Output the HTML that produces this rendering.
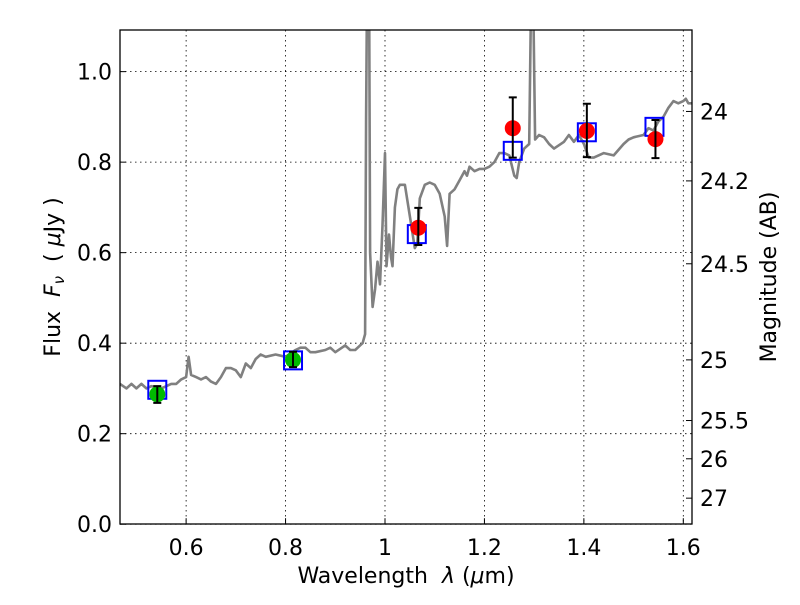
<!DOCTYPE html>
<html><head><meta charset="utf-8"><style>
body{margin:0;background:#fff}
svg text{font-family:"DejaVu Sans","Liberation Sans",sans-serif;fill:#000;white-space:pre}
</style></head><body>
<svg id="chart" width="800" height="600">
<rect x="0" y="0" width="800" height="600" fill="#fff"/>
<g id="grid"></g>
<g id="plot" clip-path="url(#clip)"></g>
<defs><clipPath id="clip"><rect x="120" y="30" width="572" height="494"/></clipPath></defs>
<rect x="120" y="30" width="572" height="494" fill="none" stroke="#000" stroke-width="1.3"/>
<g id="axes"></g>
<text x="406" y="583" font-size="22" text-anchor="middle" xml:space="preserve">Wavelength  <tspan font-style="italic">λ</tspan> (<tspan font-style="italic">μ</tspan>m)</text>
<text transform="translate(60,277) rotate(-90)" font-size="22" text-anchor="middle" xml:space="preserve">Flux  <tspan font-style="italic">F<tspan font-size="15" dy="4">ν</tspan></tspan><tspan dy="-4">  ( </tspan><tspan font-style="italic">μ</tspan>Jy )</text>
<text transform="translate(776,277) rotate(-90)" font-size="22" text-anchor="middle">Magnitude (AB)</text>
</svg>
<script>
const specWave=[0.467,0.48,0.49,0.50,0.51,0.52,0.53,0.55,0.56,0.57,0.58,0.59,0.60,0.605,0.61,0.62,0.63,0.64,0.65,0.66,0.67,0.68,0.69,0.70,0.71,0.72,0.73,0.74,0.75,0.76,0.78,0.80,0.82,0.83,0.84,0.85,0.86,0.88,0.89,0.90,0.92,0.93,0.94,0.95,0.955,0.96,0.962,0.964,0.968,0.970,0.975,0.98,0.985,0.99,0.995,1.0,1.003,1.008,1.012,1.015,1.02,1.025,1.03,1.04,1.05,1.06,1.065,1.07,1.08,1.09,1.10,1.11,1.12,1.125,1.13,1.14,1.15,1.16,1.165,1.17,1.18,1.19,1.20,1.21,1.22,1.23,1.24,1.25,1.26,1.265,1.27,1.28,1.29,1.293,1.299,1.302,1.31,1.32,1.33,1.34,1.36,1.37,1.38,1.39,1.40,1.41,1.42,1.44,1.46,1.48,1.49,1.50,1.52,1.53,1.54,1.55,1.56,1.57,1.58,1.59,1.60,1.605,1.61,1.6175];
const specFlux=[0.31,0.30,0.31,0.30,0.31,0.30,0.305,0.30,0.305,0.31,0.31,0.32,0.325,0.37,0.33,0.325,0.32,0.325,0.315,0.31,0.325,0.345,0.345,0.34,0.325,0.355,0.345,0.365,0.375,0.37,0.375,0.37,0.385,0.39,0.39,0.38,0.38,0.385,0.39,0.38,0.395,0.385,0.385,0.395,0.40,0.42,0.9,1.2,1.2,0.6,0.48,0.52,0.58,0.53,0.66,0.82,0.57,0.64,0.59,0.57,0.70,0.74,0.75,0.75,0.68,0.61,0.62,0.72,0.75,0.755,0.75,0.73,0.68,0.615,0.73,0.74,0.76,0.78,0.77,0.79,0.78,0.785,0.785,0.79,0.80,0.82,0.82,0.815,0.77,0.765,0.80,0.83,0.84,1.1,1.1,0.85,0.86,0.855,0.84,0.83,0.845,0.86,0.845,0.86,0.84,0.81,0.81,0.82,0.815,0.84,0.85,0.855,0.86,0.875,0.87,0.89,0.90,0.92,0.935,0.93,0.935,0.94,0.93,0.93];
const redWave=[1.067,1.257,1.406,1.544];
const redFlux=[0.655,0.875,0.869,0.851];
const redErrHi=[0.699,0.943,0.929,0.893];
const redErrLo=[0.617,0.810,0.811,0.809];
const greenWave=[0.542,0.815];
const greenFlux=[0.287,0.363];
const greenErrHi=[0.305,0.381];
const greenErrLo=[0.268,0.347];
const modelWave=[0.542,0.815,1.064,1.257,1.406,1.542];
const modelFlux=[0.297,0.362,0.641,0.825,0.866,0.878];
const xTicks=[0.6,0.8,1.0,1.2,1.4,1.6];
const xTickLabels=["0.6","0.8","1","1.2","1.4","1.6"];
const yTicks=[0,0.2,0.4,0.6,0.8,1.0];
const yTickLabels=["0.0","0.2","0.4","0.6","0.8","1.0"];
const magTicks=[24,24.2,24.5,25,25.5,26,27];
const magTickLabels=["24","24.2","24.5","25","25.5","26","27"];

const X0=120,X1=692,Y0=524.2,Y1=30,xmin=0.467,xmax=1.6175,ymin=0,ymax=1.092;
const sx=v=>X0+(v-xmin)/(xmax-xmin)*(X1-X0);
const sy=v=>Y0-(v-ymin)/(ymax-ymin)*(Y0-Y1);
const NS='http://www.w3.org/2000/svg';
function mk(parent,tag,attrs){const e=document.createElementNS(NS,tag);for(const k in attrs)e.setAttribute(k,attrs[k]);document.getElementById(parent).appendChild(e);return e;}

xTicks.forEach((t,i)=>{
  const x=sx(t);
  const g=mk('grid','line',{x1:x,x2:x,y1:Y1,y2:Y0,stroke:'#000','stroke-width':0.8,'stroke-dasharray':'1.5,3.5'});
  
  
  const tk=mk('axes','line',{x1:x,x2:x,y1:Y0,y2:Y0-6,stroke:'#000'});
  
  
  const tx=mk('axes','text',{x:x,y:555,'font-size':22,'text-anchor':'middle'});
  tx.textContent=xTickLabels[i];
  
  
});
yTicks.forEach((t,i)=>{
  const y=sy(t);
  const g=mk('grid','line',{x1:X0,x2:X1,y1:y,y2:y,stroke:'#000','stroke-width':0.8,'stroke-dasharray':'1.5,3.5'});
  
  
  const tk=mk('axes','line',{x1:X0,x2:X0+6,y1:y,y2:y,stroke:'#000'});
  
  
  const tx=mk('axes','text',{x:112,y:y+8,'font-size':22,'text-anchor':'end'});
  tx.textContent=yTickLabels[i];
  
  
});
magTicks.forEach((m,i)=>{
  const y=sy(Math.pow(10,-0.4*(m-23.9)));
  const tk=mk('axes','line',{x1:X1,x2:X1-6,y1:y,y2:y,stroke:'#000'});
  
  
  const tx=mk('axes','text',{x:700,y:y+8,'font-size':22});
  tx.textContent=magTickLabels[i];
  
  
});
const pts=specWave.map((w,i)=>sx(w).toFixed(1)+','+sy(specFlux[i]).toFixed(1)).join(' ');
const line=mk('plot','polyline',{points:pts,fill:'none',stroke:'#808080','stroke-width':2.6,'stroke-linejoin':'round'});


function errbar(w,lo,hi){
  const x=sx(w),a=sy(lo),b=sy(hi);
  const e=mk('plot','path',{d:`M${x},${a}V${b}M${x-4},${a}H${x+4}M${x-4},${b}H${x+4}`,stroke:'#000','stroke-width':2,fill:'none'});
  
  
}
modelWave.forEach((w,i)=>{
  const r=mk('plot','rect',{x:sx(w)-9,y:sy(modelFlux[i])-9,width:18,height:18,fill:'none',stroke:'#0000ff','stroke-width':2});
  
  
});
greenWave.forEach((w,i)=>{
  const c=mk('plot','circle',{cx:sx(w),cy:sy(greenFlux[i]),r:8,fill:'#00bb00'});
  
  
  errbar(w,greenErrLo[i],greenErrHi[i]);
});
redWave.forEach((w,i)=>{
  const c=mk('plot','circle',{cx:sx(w),cy:sy(redFlux[i]),r:8,fill:'#ff0000'});
  
  
  errbar(w,redErrLo[i],redErrHi[i]);
});
</script>
</body></html>
